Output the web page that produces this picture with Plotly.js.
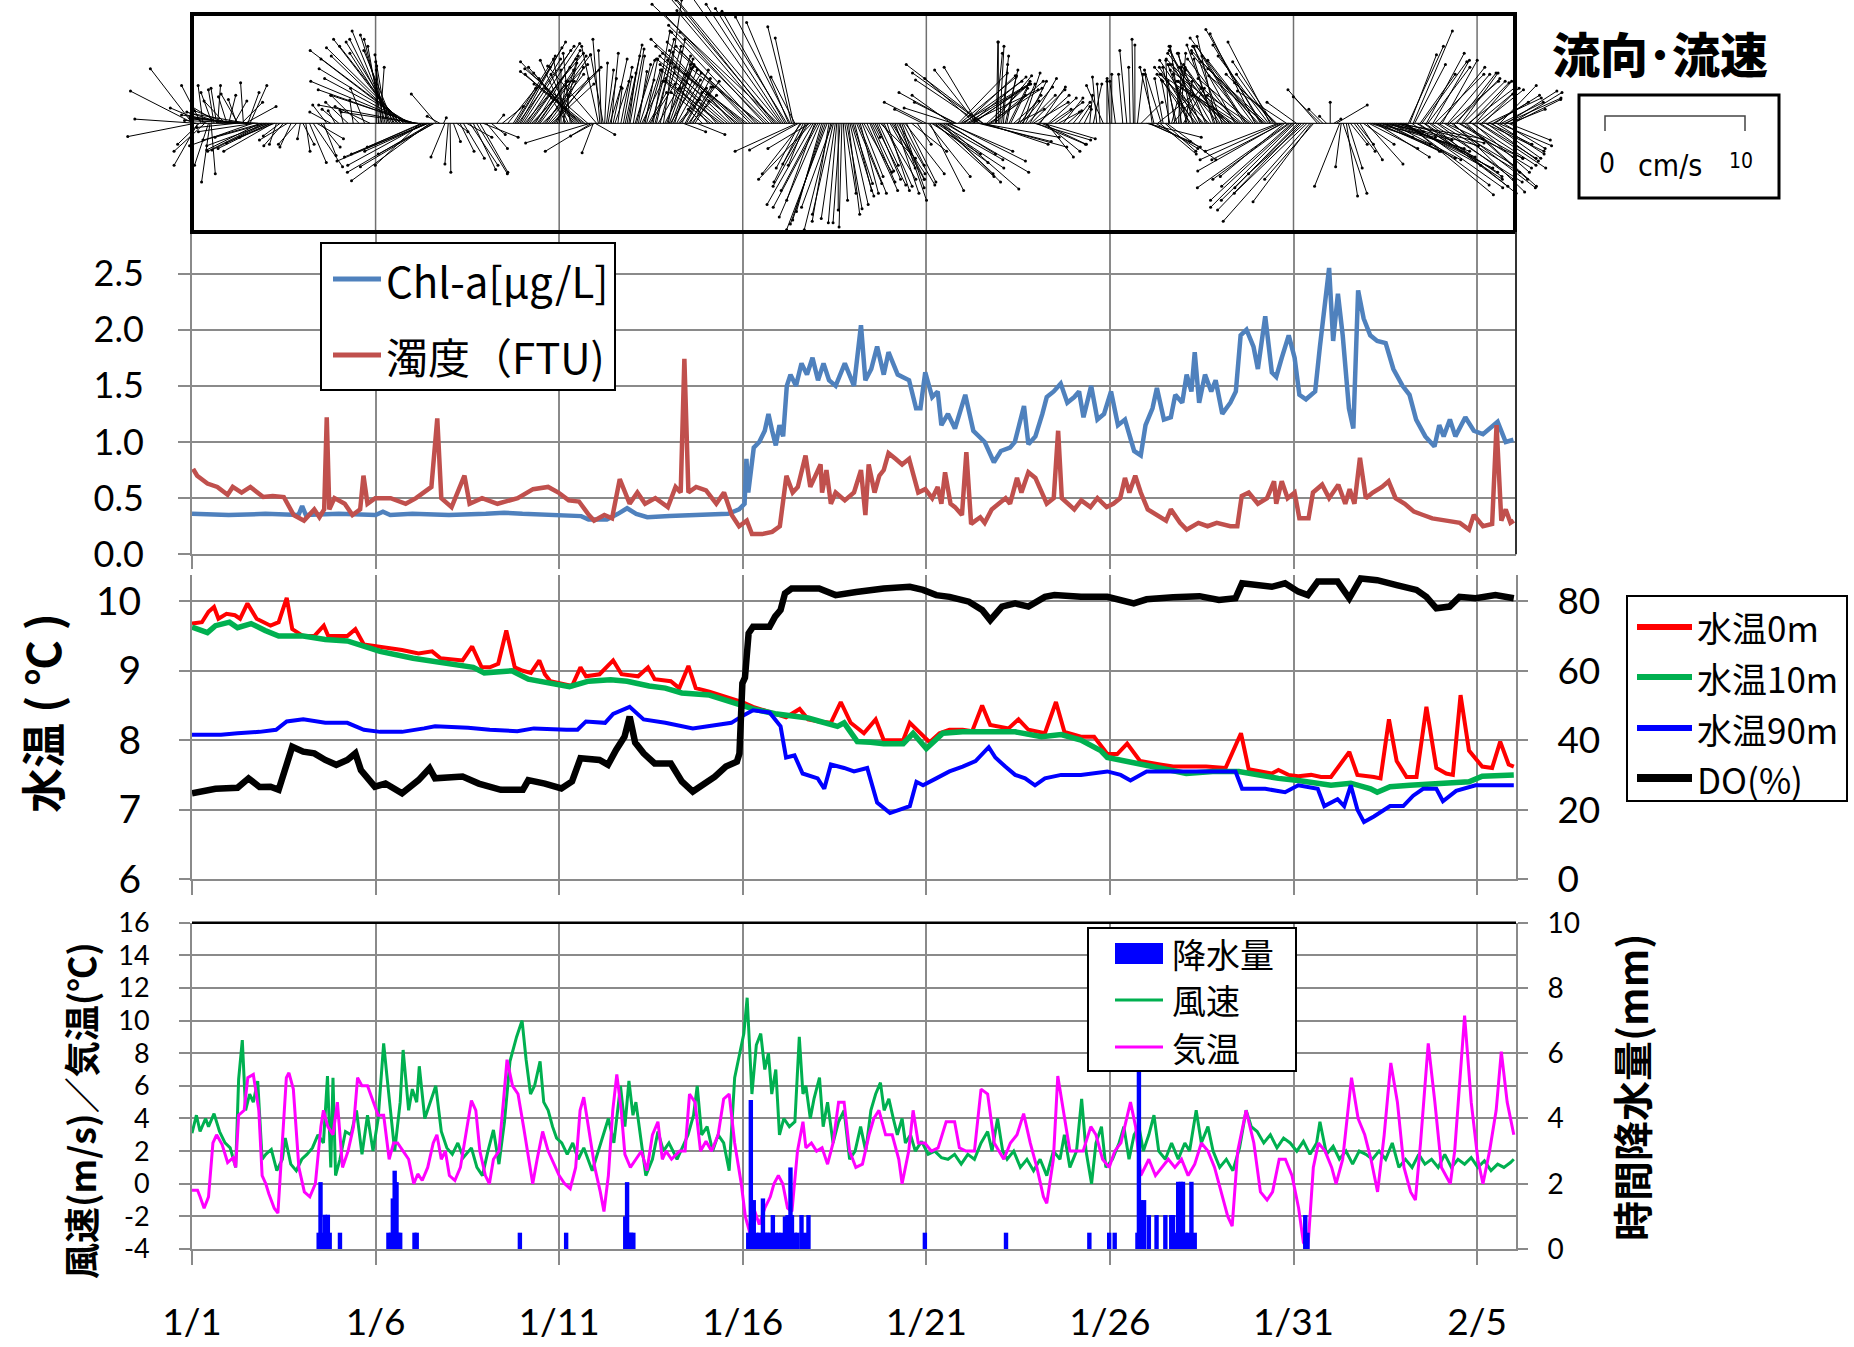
<!DOCTYPE html>
<html><head><meta charset="utf-8">
<script src="https://cdn.plot.ly/plotly-3.0.1.min.js"></script>
<style>html,body{margin:0;padding:0;background:#fff;}#chart{width:1854px;height:1347px;}</style>
</head><body><div id="chart"></div>
<script>
// ---------------- DATA (time in days from 1/1 00:00) ----------------
const dateTicks=[0,5,10,15,20,25,30,35];
const dateLabels=['1/1','1/6','1/11','1/16','1/21','1/26','1/31','2/5'];

const chlT=[0,1,2,2.9,3.0,3.1,4,5,5.2,5.4,6,7,8,8.5,9,10,10.6,10.8,11.3,11.6,11.85,12.1,12.4,13,14,14.6,14.9,15.05,15.1,15.15,15.3,15.45,15.6,15.7,15.8,15.9,16.0,16.1,16.2,16.3,16.45,16.6,16.75,16.9,17.05,17.2,17.35,17.53,17.78,18.03,18.22,18.34,18.5,18.66,18.84,18.97,19.22,19.53,19.72,19.84,19.97,20.16,20.31,20.41,20.59,20.78,21.06,21.28,21.59,21.84,22.03,22.28,22.41,22.66,22.78,22.97,23.16,23.28,23.47,23.66,23.84,24.03,24.16,24.28,24.49,24.66,24.84,25.03,25.22,25.41,25.66,25.84,25.97,26.16,26.28,26.47,26.66,26.78,26.97,27.09,27.22,27.31,27.43,27.59,27.76,27.88,28.06,28.28,28.43,28.56,28.72,28.91,29.03,29.23,29.41,29.53,29.68,29.87,30.03,30.16,30.34,30.59,30.72,30.82,30.97,31.08,31.21,31.34,31.51,31.63,31.76,31.91,32.09,32.28,32.51,32.72,32.97,33.16,33.34,33.59,33.84,33.97,34.09,34.26,34.41,34.68,34.91,35.16,35.34,35.56,35.78,35.99];
const chlV=[0.36,0.35,0.36,0.35,0.43,0.35,0.36,0.35,0.38,0.35,0.36,0.35,0.36,0.37,0.36,0.35,0.34,0.31,0.31,0.36,0.41,0.36,0.33,0.34,0.35,0.36,0.4,0.45,0.85,0.55,0.95,1.0,1.1,1.25,1.1,0.97,1.15,1.05,1.5,1.6,1.5,1.7,1.6,1.75,1.55,1.7,1.55,1.5,1.7,1.5,2.04,1.55,1.65,1.85,1.6,1.8,1.6,1.55,1.3,1.3,1.62,1.4,1.45,1.15,1.25,1.12,1.42,1.1,1.0,0.82,0.92,0.95,1.0,1.32,0.98,1.05,1.25,1.4,1.45,1.52,1.35,1.4,1.45,1.22,1.5,1.2,1.25,1.45,1.15,1.2,0.92,0.88,1.15,1.3,1.48,1.2,1.22,1.42,1.35,1.6,1.45,1.8,1.35,1.6,1.45,1.55,1.25,1.35,1.45,1.95,2.0,1.85,1.65,2.12,1.62,1.58,1.75,1.95,1.75,1.42,1.38,1.45,1.85,2.1,2.55,1.9,2.32,1.95,1.3,1.12,2.35,2.1,1.95,1.9,1.88,1.65,1.5,1.42,1.2,1.05,0.96,1.15,1.05,1.2,1.05,1.22,1.1,1.07,1.12,1.18,1.0,1.02];

const turbT=[0.03,0.14,0.42,0.69,0.97,1.11,1.35,1.59,1.94,2.2,2.5,2.77,3.05,3.33,3.47,3.6,3.67,3.74,3.88,4.16,4.37,4.58,4.67,4.78,4.99,5.41,5.82,6.1,6.52,6.68,6.79,7.07,7.42,7.56,7.9,8.32,8.87,9.29,9.7,9.98,10.26,10.54,10.81,10.95,11.23,11.44,11.65,11.92,12.13,12.34,12.62,12.96,13.17,13.31,13.41,13.52,13.73,14.0,14.28,14.49,14.7,14.9,15.11,15.25,15.53,15.8,16.01,16.19,16.36,16.5,16.71,16.84,17.12,17.16,17.28,17.4,17.53,17.78,18.03,18.22,18.34,18.43,18.59,18.72,18.84,18.97,19.16,19.34,19.53,19.66,19.78,19.97,20.16,20.31,20.41,20.51,20.66,20.78,20.97,21.09,21.22,21.34,21.47,21.59,21.78,21.97,22.16,22.28,22.47,22.59,22.78,22.97,23.16,23.28,23.47,23.59,23.69,23.84,24.03,24.22,24.47,24.66,24.91,25.09,25.28,25.41,25.53,25.69,25.84,26.03,26.28,26.53,26.66,26.91,27.09,27.41,27.66,27.91,28.28,28.47,28.59,28.78,29.03,29.28,29.47,29.53,29.68,29.84,30.03,30.16,30.41,30.53,30.78,30.97,31.22,31.41,31.53,31.66,31.81,31.97,32.16,32.41,32.59,32.78,33.03,33.28,33.53,33.78,34.16,34.53,34.78,34.91,35.16,35.41,35.53,35.66,35.78,35.91,36.0];
const turbV=[0.76,0.7,0.63,0.6,0.53,0.6,0.55,0.6,0.51,0.52,0.51,0.35,0.3,0.4,0.33,0.4,1.22,0.4,0.5,0.45,0.35,0.4,0.7,0.45,0.5,0.5,0.45,0.5,0.6,1.21,0.5,0.42,0.7,0.45,0.5,0.45,0.5,0.58,0.6,0.55,0.48,0.47,0.35,0.3,0.35,0.32,0.67,0.45,0.55,0.45,0.5,0.42,0.6,0.55,1.74,0.55,0.6,0.57,0.45,0.55,0.35,0.25,0.3,0.18,0.18,0.2,0.25,0.7,0.55,0.6,0.88,0.6,0.8,0.55,0.75,0.45,0.55,0.48,0.55,0.75,0.35,0.8,0.55,0.7,0.75,0.9,0.85,0.8,0.85,0.7,0.55,0.58,0.5,0.6,0.45,0.73,0.45,0.42,0.35,0.91,0.27,0.3,0.33,0.28,0.4,0.45,0.5,0.45,0.68,0.55,0.73,0.68,0.55,0.45,0.5,1.1,0.5,0.45,0.4,0.48,0.42,0.5,0.42,0.45,0.5,0.68,0.55,0.7,0.55,0.4,0.35,0.3,0.4,0.28,0.22,0.28,0.25,0.28,0.25,0.25,0.52,0.55,0.45,0.5,0.65,0.45,0.65,0.5,0.55,0.32,0.32,0.55,0.62,0.5,0.62,0.45,0.58,0.45,0.86,0.5,0.55,0.6,0.65,0.5,0.45,0.38,0.35,0.32,0.3,0.28,0.22,0.35,0.25,0.27,1.15,0.3,0.4,0.28,0.3];

const wt0T=[0,0.27,0.45,0.6,0.72,0.94,1.17,1.31,1.51,1.76,2.14,2.36,2.58,2.73,3.03,3.33,3.59,3.71,4.23,4.45,4.68,5.12,5.72,6.17,6.54,6.77,7.37,7.63,7.89,8.11,8.34,8.56,8.79,9.01,9.23,9.46,9.61,9.76,10.2,10.35,10.58,10.73,11.1,11.47,11.7,12.15,12.42,12.6,13.04,13.27,13.52,13.72,14.09,14.39,14.69,14.99,15.28,15.58,15.88,16.18,16.55,16.78,17.08,17.4,17.67,17.94,18.3,18.62,18.84,19.37,19.55,19.91,20.09,20.36,20.63,20.99,21.25,21.52,21.74,22.24,22.51,22.78,23.23,23.53,23.76,24.21,24.57,24.93,25.2,25.47,25.82,26.36,26.72,27.08,27.62,28.15,28.57,28.78,29.14,29.41,29.59,29.86,30.13,30.48,30.75,31.02,31.52,31.74,32.19,32.37,32.6,32.81,33.08,33.35,33.62,33.89,34.16,34.34,34.55,34.78,35.14,35.41,35.63,35.86,36.0];
const wt0V=[9.68,9.7,9.85,9.92,9.75,9.82,9.8,9.75,9.97,9.75,9.65,9.7,10.05,9.6,9.5,9.5,9.65,9.5,9.5,9.6,9.38,9.35,9.3,9.25,9.28,9.18,9.15,9.35,9.05,9.05,9.1,9.58,9.05,9.0,8.97,9.15,8.95,8.85,8.8,8.78,9.05,8.92,8.95,9.15,8.95,8.92,9.05,8.88,8.85,8.75,9.07,8.75,8.7,8.65,8.6,8.55,8.48,8.43,8.38,8.33,8.45,8.3,8.27,8.25,8.55,8.25,8.1,8.3,8.0,8.0,8.25,8.05,7.97,8.1,8.15,8.15,8.13,8.5,8.22,8.17,8.3,8.15,8.1,8.55,8.12,8.05,8.05,7.8,7.8,7.95,7.7,7.65,7.62,7.62,7.62,7.6,8.1,7.58,7.55,7.52,7.57,7.5,7.48,7.5,7.47,7.47,7.83,7.5,7.47,7.45,8.3,7.7,7.47,7.47,8.48,7.6,7.52,7.5,8.65,7.85,7.62,7.6,7.98,7.65,7.62];

const wt10T=[0,0.42,0.64,1.02,1.24,1.61,1.99,2.36,3.03,3.63,4.23,4.68,5.12,6.02,6.92,7.66,7.96,8.71,9.16,9.76,10.28,10.8,11.4,11.85,12.45,12.89,13.34,14.09,14.69,15.28,15.88,16.78,17.04,17.58,17.76,18.12,18.48,18.84,19.37,19.64,20.0,20.45,20.99,21.7,22.42,23.14,23.67,24.21,24.75,24.93,25.47,26.36,27.08,27.8,28.51,29.23,29.59,30.13,31.02,31.56,32.1,32.28,32.63,33.17,34.07,34.78,35.14,36.0];
const wt10V=[9.63,9.55,9.65,9.7,9.62,9.68,9.58,9.5,9.5,9.45,9.43,9.35,9.28,9.18,9.1,9.05,8.97,9.0,8.88,8.82,8.77,8.85,8.87,8.85,8.78,8.75,8.68,8.65,8.55,8.45,8.38,8.32,8.28,8.2,8.25,7.98,7.97,7.95,7.95,8.1,7.88,8.1,8.12,8.12,8.12,8.05,8.08,8.0,7.85,7.75,7.7,7.6,7.52,7.55,7.55,7.48,7.45,7.42,7.35,7.38,7.3,7.25,7.33,7.35,7.37,7.4,7.48,7.5];

const wt90T=[0,0.79,1.24,1.84,2.29,2.58,3.03,3.63,4.23,4.68,5.12,5.72,6.32,6.62,7.52,8.11,8.86,9.31,10.2,10.5,10.73,11.25,11.47,11.92,12.3,12.89,13.64,14.09,14.69,14.99,15.28,15.73,16.03,16.18,16.41,16.63,17.04,17.22,17.4,17.76,18.03,18.39,18.66,19.01,19.28,19.55,19.73,19.91,20.27,20.63,20.99,21.34,21.7,21.88,22.15,22.42,22.69,22.96,23.23,23.67,24.21,24.93,25.29,25.56,26.0,26.72,27.8,28.42,28.6,29.23,29.77,30.13,30.66,30.84,31.2,31.38,31.56,31.74,31.92,32.19,32.63,32.99,33.26,33.53,33.89,34.07,34.43,34.96,36.0];
const wt90V=[8.08,8.08,8.1,8.12,8.15,8.27,8.3,8.25,8.25,8.15,8.12,8.12,8.17,8.2,8.18,8.15,8.13,8.17,8.15,8.15,8.27,8.25,8.38,8.48,8.3,8.25,8.17,8.2,8.25,8.35,8.43,8.4,8.2,7.75,7.78,7.52,7.45,7.3,7.65,7.6,7.55,7.6,7.1,6.95,7.0,7.05,7.4,7.35,7.45,7.55,7.62,7.7,7.9,7.75,7.62,7.5,7.45,7.35,7.45,7.5,7.5,7.55,7.5,7.42,7.55,7.55,7.55,7.55,7.3,7.3,7.25,7.35,7.3,7.05,7.15,7.05,7.35,7.0,6.82,6.9,7.05,7.05,7.2,7.3,7.3,7.12,7.27,7.35,7.35];

const doT=[0,0.64,1.24,1.54,1.84,2.14,2.36,2.58,2.73,3.03,3.33,3.63,3.93,4.23,4.45,4.6,4.98,5.27,5.72,6.17,6.47,6.62,7.37,7.81,8.41,9.01,9.16,9.61,10.06,10.35,10.58,11.1,11.33,11.55,11.78,11.92,12.07,12.3,12.6,13.04,13.34,13.64,13.94,14.24,14.54,14.84,14.91,14.99,15.06,15.16,15.28,15.73,15.88,16.03,16.15,16.33,17.08,17.53,18.09,18.48,18.84,19.55,19.91,20.27,20.63,21.16,21.52,21.74,22.06,22.42,22.78,23.23,23.49,24.21,24.93,25.65,26.0,26.72,27.44,27.97,28.42,28.6,28.96,29.41,29.77,30.13,30.39,30.66,31.2,31.52,31.83,32.28,32.81,33.35,33.62,33.89,34.25,34.52,34.96,35.5,36.0];
const doV=[24.7,26,26.3,29,26.5,26.6,25.7,33,38.1,36.7,36.2,34.3,32.9,34.3,36.2,31.4,26.6,27.5,24.7,28.5,31.9,29,29.5,27.5,25.7,25.7,28.5,27.5,26.1,28.1,34.8,34.3,32.9,37.2,41,46.8,39.3,36.2,33.3,33.3,28.1,25.2,27.2,29.5,32.4,33.8,36.2,56.4,58,70.8,72.7,72.7,75.6,77.5,82.3,83.7,83.7,81.8,82.7,83.3,83.7,84.2,83.3,81.8,81.3,79.9,77.5,74.6,78.5,79.4,78.5,81.3,81.8,81.3,81.3,79.4,80.6,81.2,81.5,80.4,80.9,85.2,84.7,84.2,85.2,82.8,81.8,85.7,85.7,80.9,86.6,86.1,84.7,83.3,81.3,78.0,78.5,81.3,80.9,81.8,80.9];

const windT=[0,0.12,0.22,0.37,0.45,0.6,0.75,0.9,1.04,1.19,1.27,1.37,1.46,1.57,1.67,1.79,1.91,2.01,2.16,2.31,2.46,2.54,2.69,2.84,2.99,3.13,3.28,3.43,3.58,3.69,3.78,3.84,3.91,4.03,4.18,4.33,4.48,4.63,4.78,4.93,5.07,5.22,5.3,5.4,5.52,5.67,5.75,5.9,6.0,6.12,6.19,6.34,6.49,6.64,6.79,6.94,7.09,7.24,7.39,7.61,7.76,7.91,8.06,8.21,8.36,8.51,8.66,8.84,8.99,9.1,9.22,9.33,9.48,9.58,9.7,9.82,9.93,10.07,10.22,10.37,10.52,10.67,10.9,11.04,11.19,11.34,11.49,11.67,11.79,11.9,12.01,12.09,12.24,12.36,12.54,12.69,12.84,12.99,13.21,13.36,13.51,13.66,13.76,13.88,14.03,14.18,14.33,14.48,14.63,14.78,14.93,15.03,15.12,15.25,15.37,15.49,15.6,15.7,15.79,15.9,16.0,16.12,16.27,16.42,16.54,16.64,16.72,16.84,16.94,17.09,17.19,17.31,17.46,17.61,17.76,17.91,18.06,18.21,18.35,18.49,18.62,18.75,18.85,18.98,19.1,19.21,19.34,19.43,19.57,19.7,19.87,20.05,20.23,20.41,20.59,20.77,20.95,21.13,21.31,21.49,21.67,21.79,21.94,22.08,22.2,22.38,22.56,22.74,22.92,23.1,23.28,23.46,23.64,23.76,23.91,24.09,24.23,24.35,24.5,24.62,24.77,24.89,25.07,25.25,25.38,25.52,25.66,25.79,25.91,26.06,26.2,26.33,26.51,26.68,26.86,27.04,27.17,27.35,27.49,27.67,27.81,27.99,28.17,28.35,28.53,28.71,28.85,29.01,29.19,29.37,29.55,29.73,29.91,30.09,30.27,30.45,30.63,30.72,30.9,31.08,31.25,31.43,31.61,31.79,31.97,32.15,32.33,32.51,32.69,32.87,33.05,33.23,33.41,33.58,33.76,33.94,34.12,34.3,34.48,34.66,34.84,35.02,35.2,35.38,35.56,35.73,35.91,36.0];
const windV=[3.1,4.2,3.2,4.0,3.5,4.3,3.2,2.5,2.2,1.0,6.4,8.8,4.5,5.5,5.0,6.3,1.5,1.8,2.1,0.8,1.5,2.8,1.2,0.8,1.5,1.8,2.2,3.0,2.5,6.6,1.0,6.5,0.5,1.5,3.2,3.0,4.5,1.8,4.2,2.0,4.0,8.6,6.8,4.5,2.0,5.0,8.2,4.5,5.8,5.0,7.2,4.0,5.0,6.0,3.2,2.2,1.8,2.5,1.6,2.2,1.0,0.5,2.0,3.3,1.2,3.8,7.5,9.0,10.0,7.6,5.5,6.0,7.5,5.0,4.5,3.5,2.8,2.5,1.8,2.5,1.5,2.2,0.8,1.8,3.0,4.0,2.5,6.0,3.5,6.3,4.2,5.0,2.5,0.5,1.5,3.2,2.0,2.5,1.5,2.2,3.0,4.2,6.0,3.0,3.5,2.0,3.0,2.5,0.8,6.5,8.2,9.2,11.4,5.5,8.5,9.2,7.0,8.0,5.5,7.0,3.0,4.0,3.5,3.8,9.0,5.5,6.0,4.0,5.2,6.5,3.5,5.0,2.5,3.8,4.5,1.5,2.0,3.5,2.0,4.5,5.5,6.2,4.5,5.2,4.0,3.0,4.0,2.5,3.0,2.0,2.6,1.8,2.0,1.6,1.5,1.8,1.2,1.8,1.5,2.5,3.2,2.0,4.0,2.0,1.5,2.0,1.0,1.5,0.8,1.5,0.5,2.0,1.5,3.0,1.0,2.0,5.2,2.0,0.0,2.5,3.5,1.0,1.5,2.5,3.5,1.5,3.0,3.5,2.0,3.0,4.2,2.0,1.5,2.5,1.5,2.5,2.0,4.5,2.5,3.5,2.0,1.0,1.5,0.8,2.2,4.5,3.5,3.2,2.5,3.0,2.2,2.8,2.5,2.0,2.6,1.8,2.5,3.8,1.8,2.3,1.5,2.0,1.2,2.0,1.8,1.5,2.0,1.5,2.5,1.0,1.5,1.0,1.8,1.2,1.5,1.0,1.8,1.0,1.5,1.2,1.6,1.0,1.4,0.8,1.2,1.0,1.3,1.5];

const airT=[0,0.15,0.22,0.33,0.45,0.57,0.67,0.82,0.97,1.12,1.19,1.27,1.42,1.52,1.67,1.82,1.91,2.01,2.09,2.24,2.34,2.46,2.57,2.64,2.76,2.91,3.06,3.21,3.36,3.51,3.58,3.7,3.84,3.96,4.1,4.25,4.4,4.51,4.63,4.78,4.93,5.07,5.22,5.37,5.49,5.6,5.75,5.9,6.04,6.15,6.27,6.42,6.57,6.67,6.79,6.9,7.01,7.16,7.31,7.46,7.61,7.73,7.84,7.99,8.1,8.21,8.36,8.48,8.58,8.73,8.88,9.03,9.18,9.28,9.4,9.55,9.7,9.85,10.0,10.15,10.3,10.45,10.57,10.67,10.82,10.97,11.12,11.22,11.34,11.46,11.57,11.69,11.79,11.94,12.09,12.24,12.39,12.54,12.69,12.81,12.91,13.06,13.28,13.43,13.55,13.7,13.85,14.0,14.15,14.33,14.48,14.63,14.78,14.96,15.07,15.19,15.3,15.45,15.6,15.75,15.85,15.97,16.09,16.22,16.34,16.49,16.64,16.72,16.87,17.01,17.16,17.31,17.46,17.61,17.76,17.91,18.08,18.26,18.44,18.57,18.71,18.89,19.07,19.25,19.34,19.52,19.64,19.78,19.96,20.14,20.32,20.54,20.77,20.9,21.08,21.31,21.49,21.67,21.85,22.11,22.29,22.47,22.65,22.83,23.01,23.19,23.28,23.46,23.58,23.76,23.91,24.09,24.27,24.48,24.62,24.8,24.98,25.13,25.3,25.56,25.7,25.84,26.06,26.24,26.42,26.59,26.77,26.95,27.13,27.31,27.49,27.67,27.85,28.03,28.21,28.33,28.48,28.71,28.92,29.1,29.28,29.43,29.61,29.78,29.96,30.14,30.27,30.39,30.54,30.68,30.86,31.04,31.16,31.34,31.58,31.76,31.94,32.11,32.29,32.47,32.65,32.83,33.01,33.19,33.32,33.46,33.67,33.85,34.03,34.27,34.39,34.52,34.66,34.84,35.02,35.16,35.34,35.52,35.66,35.82,36.0];
const airV=[-0.4,-0.4,-0.8,-1.5,-0.8,2.5,3.0,2.4,1.3,1.6,1.0,4.2,4.5,6.5,6.7,4.5,0.5,0.0,-0.6,-1.5,-1.8,2.5,6.5,6.8,5.8,1.0,-0.5,-0.8,0.0,3.5,4.5,3.5,3.0,5.0,1.0,2.0,3.5,6.5,6.0,6.0,5.0,4.2,4.2,1.5,2.5,2.5,2.0,1.5,0.0,0.6,0.2,1.0,2.5,3.0,1.5,2.0,0.5,0.2,1.0,3.0,5.1,4.5,2.0,0.5,0.0,1.5,2.0,5.0,7.6,6.0,5.5,3.5,1.5,0.0,1.5,3.2,2.0,1.2,0.5,0.0,-0.3,1.0,4.5,5.3,3.0,1.0,-0.5,-1.7,0.5,4.5,6.7,4.5,1.8,1.0,1.5,2.0,0.8,3.0,3.8,1.5,2.0,1.5,2.0,2.0,5.5,5.0,2.0,2.6,2.0,3.0,5.2,5.5,2.5,0.0,-2.0,-3.0,-1.5,-2.5,-1.5,-0.8,0.0,0.5,0.0,-1.5,-1.7,2.0,3.8,2.2,2.5,2.0,2.2,1.2,2.5,5.0,5.0,2.0,1.0,1.2,3.0,4.0,4.5,3.0,3.0,1.5,0.0,2.0,4.5,2.5,2.5,2.0,2.2,3.8,3.8,2.2,2.0,2.0,5.8,5.5,2.5,1.5,2.5,3.0,4.3,2.5,1.0,-0.8,-1.2,1.5,6.6,4.0,2.0,2.0,2.0,3.5,3.0,1.5,1.0,2.0,2.5,5.0,3.5,0.5,1.5,0.5,1.0,1.5,1.0,1.5,0.5,1.2,2.5,2.0,1.0,-0.5,-2.0,-2.6,2.0,4.5,2.5,-0.5,-1.0,-0.5,1.5,1.5,0.5,-1.5,-3.6,-4.0,1.0,2.5,2.0,1.0,0.0,1.5,6.5,4.0,3.0,1.5,-0.5,3.0,7.4,5.0,1.0,-0.5,-1.0,2.5,8.6,5.0,1.0,0.0,2.0,6.0,10.3,5.0,1.5,0.0,2.0,4.5,8.1,5.0,3.0];

const rainT=[3.45,3.5,3.55,3.62,3.7,3.75,4.03,5.35,5.42,5.47,5.52,5.57,5.62,5.67,6.06,6.12,8.93,10.19,11.8,11.85,11.9,11.96,12.02,15.15,15.22,15.3,15.37,15.45,15.55,15.62,15.67,15.75,15.82,15.9,15.97,16.05,16.15,16.22,16.3,16.34,16.42,16.49,16.6,16.69,16.79,19.96,22.17,24.44,24.98,25.13,25.75,25.79,25.84,25.88,25.93,26.06,26.27,26.51,26.67,26.72,26.78,26.86,26.93,26.99,27.06,27.13,27.22,27.31,30.32,30.38];
const rainV=[0.5,2.05,0.5,1.05,1.05,0.5,0.5,0.5,0.5,1.55,2.4,2.05,0.5,0.5,0.5,0.5,0.5,0.5,1.0,2.05,0.5,0.5,0.5,0.5,4.57,1.5,0.5,0.5,1.55,0.5,0.5,0.5,1.04,0.5,0.5,0.5,1.0,1.04,2.5,1.04,0.5,0.5,1.04,0.5,1.04,0.5,0.5,0.5,0.5,0.5,0.5,5.49,1.5,1.0,1.5,1.04,1.04,1.04,1.04,1.04,0.5,2.06,2.06,2.06,0.5,0.5,2.06,0.5,1.04,0.5];

// current vectors (set 1): base time (days), east component u and north component v (cm/s)
const stT=[0.01,0.04,0.08,0.12,0.16,0.2,0.25,0.3,0.4,0.49,
0.52,0.6,0.67,0.75,0.85,0.95,1.05,1.15,1.25,1.4,
1.45,1.5,1.58,1.65,1.85,1.95,2.03,2.12,2.2,2.3,
2.4,2.49,2.6,2.7,2.85,2.95,3.02,3.1,3.2,3.3,
3.4,3.5,3.58,3.67,3.78,3.9,4.0,4.12,4.25,4.39,
4.55,4.7,4.85,5.03,5.12,5.21,5.3,5.39,5.48,5.57,
5.66,5.76,5.85,5.94,6.03,6.12,6.21,6.3,6.39,6.44,
6.48,6.57,6.66,6.75,6.85,6.89,6.98,7.03,7.12,7.21,
7.3,7.39,7.48,7.57,7.66,7.75,7.84,7.93,8.02,8.15,
8.3,8.45,8.6,8.75,8.84,8.93,9.02,9.11,9.2,9.3,
9.4,9.48,9.6,9.7,9.8,9.9,10.0,10.1,10.2,10.3,
10.4,10.5,10.6,10.7,10.78,10.84,10.88,10.93,10.96,10.98,
11.02,11.07,11.11,11.2,11.29,11.38,11.47,11.6,11.75,11.85,
11.93,12.02,12.11,12.2,12.3,12.38,12.47,12.56,12.61,12.7,
12.84,12.93,13.0,13.06,13.11,13.2,13.29,13.38,13.47,13.56,
13.65,13.75,13.9,14.05,14.2,14.35,14.5,14.65,14.8,14.92,
15.05,15.2,15.35,15.5,15.65,15.8,15.9,16.01,16.1,16.2,
16.29,16.33,16.38,16.42,16.47,16.52,16.56,16.65,16.74,16.83,
16.92,17.0,17.1,17.2,17.3,17.4,17.47,17.56,17.65,17.74,
17.83,17.92,18.0,18.1,18.2,18.3,18.46,18.55,18.65,18.75,
18.85,19.01,19.1,19.19,19.28,19.37,19.46,19.6,19.75,19.9,
20.0,20.1,20.19,20.28,20.37,20.46,20.55,20.64,20.73,20.82,
20.92,21.0,21.1,21.19,21.28,21.37,21.42,21.46,21.5,21.55,
21.65,21.75,21.85,21.91,22.0,22.1,22.19,22.3,22.45,22.55,
22.64,22.75,22.82,22.91,23.0,23.1,23.19,23.28,23.37,23.5,
23.6,23.73,23.85,24.0,24.15,24.3,24.45,24.55,24.64,24.73,
24.82,24.92,25.0,25.05,25.15,25.35,25.46,25.55,25.64,25.68,
25.75,25.85,26.0,26.09,26.2,26.3,26.36,26.45,26.55,26.63,
26.72,26.82,26.91,27.0,27.1,27.2,27.3,27.4,27.5,27.6,
27.7,27.82,27.91,28.0,28.1,28.2,28.3,28.4,28.5,28.6,
28.7,28.8,28.9,29.0,29.1,29.17,29.27,29.36,29.45,29.54,
29.63,29.72,29.81,29.9,29.99,30.08,30.17,30.3,30.45,30.55,
30.65,30.72,30.8,30.9,31.0,31.1,31.17,31.26,31.3,31.35,
31.44,31.49,31.55,31.65,31.72,31.81,31.9,31.99,32.1,32.2,
32.3,32.4,32.5,32.6,32.7,32.8,32.9,33.0,33.08,33.17,
33.26,33.35,33.45,33.55,33.62,33.7,33.8,33.9,33.99,34.1,
34.2,34.35,34.45,34.53,34.62,34.71,34.8,34.9,35.0,35.08,
35.17,35.26,35.35,35.44,35.53,35.62,35.71,35.8,35.9,35.98];
const stU=[-3.0,-4.5,-4.8,-4.4,-1.7,-1.55,-1.4,-0.35,-2.6,-0.6,
0.3,-0.4,-0.4,-2.0,-2.6,-0.6,-3.5,0.9,-1.2,-0.2,
2.2,-4.0,1.2,-4.5,-3.8,-4.0,-3.9,-3.7,-3.5,-0.5,
-1.2,-1.4,-2.0,-0.8,-1.3,-0.2,0.8,0.3,1.2,2.1,
1.9,1.4,0.9,-1.0,-1.5,-0.5,-1.2,-0.24,-1.6,-0.24,
-2.0,-1.0,-2.5,0.0,0.3,-0.5,-0.83,-2.7,-2.1,-3.6,
-4.3,-5.5,-6.9,-6.5,-6.8,-7.0,-3.2,-4.0,-6.4,-6.0,
-5.6,-5.2,-1.8,-0.9,0.2,-1.0,-0.24,0.05,0.5,0.8,
1.0,1.5,1.8,2.0,1.6,2.2,2.0,2.5,1.5,1.0,
0.5,1.5,2.0,3.0,3.5,3.0,3.4,3.8,3.3,2.5,
3.5,3.6,2.8,1.5,3.0,2.0,0.5,1.0,-1.5,-0.5,
-2.5,-3.5,-4.0,-4.6,-4.5,-4.6,-3.3,-0.8,-1.7,1.4,
-3.5,-1.2,-0.5,-0.9,0.5,0.8,1.0,0.3,0.6,0.9,
1.0,0.8,1.0,1.0,1.2,1.1,1.8,1.2,1.3,2.0,
1.3,1.7,1.5,1.6,1.7,1.7,1.4,1.6,1.7,1.5,
1.4,2.0,-1.0,-2.0,-3.5,-3.8,-4.5,-5.0,-5.2,-6.0,
-5.5,-4.9,-6.0,-5.0,-7.0,-6.8,-8.0,-7.9,-5.5,-5.1,
-3.9,-1.7,-1.3,-1.7,-4.4,-3.5,-1.7,-2.1,-1.7,-3.0,
-3.3,-2.5,-2.9,-2.2,-2.9,-1.9,-1.5,-0.6,-0.5,0.3,
1.1,1.3,1.4,1.8,1.3,2.0,1.8,0.5,1.7,2.5,
2.0,1.8,2.2,2.0,1.9,1.5,2.1,2.5,1.0,-2.0,
-3.0,2.4,3.9,4.8,3.8,5.4,3.5,5.4,-3.5,-3.0,
4.0,4.2,4.5,4.0,3.5,-3.0,5.2,-4.6,6.1,-5.5,
3.0,2.5,3.5,0.1,0.3,0.3,0.7,1.2,2.0,1.5,
1.2,2.0,1.9,2.5,3.5,1.8,3.7,1.9,1.5,2.0,
1.5,1.4,1.0,1.2,0.8,0.5,0.2,0.6,-0.3,-0.2,
-1.2,0.0,-0.2,0.0,-0.4,-0.3,-0.5,-0.1,-0.1,0.0,
0.4,1.5,3.9,3.6,-1.0,2.5,2.6,-0.6,3.5,-0.6,
2.0,-1.0,0.4,1.5,-1.0,-2.0,-2.5,-1.5,-3.0,-2.0,
-3.5,-1.4,-1.4,-2.5,-4.0,-3.5,-5.0,-3.0,-4.0,-4.5,
-3.5,-3.0,-4.5,-3.5,-3.9,-4.4,-4.2,-3.0,-2.9,-3.0,
-5.7,-5.1,-3.5,-5.5,-5.9,-2.1,-5.6,-4.0,-6.2,-3.5,
-2.1,-1.9,-1.0,-0.5,0.0,0.5,2.2,-1.8,-0.4,1.7,
0.8,1.0,1.2,1.5,1.2,1.6,2.2,2.6,3.0,4.0,
4.5,3.0,5.0,4.5,5.5,6.2,6.0,5.5,6.2,1.9,
2.8,5.8,2.5,6.0,2.7,6.2,2.6,5.5,3.2,5.0,
3.0,5.1,2.8,4.5,3.0,5.0,2.8,4.0,3.0,4.0,
2.1,3.7,3.0,2.5,3.4,2.6,3.0,3.6,2.5,3.4];
const stV=[3.9,2.3,-0.95,0.3,-3.0,-1.5,2.7,2.7,1.1,-4.2,
-3.6,2.4,2.5,1.2,0.8,1.9,0.6,1.6,2.1,2.9,
1.2,0.7,2.7,-1.6,-1.9,-2.0,-1.9,-1.8,-2.0,-1.5,
-0.9,-1.6,-1.2,-1.7,-1.5,-1.1,-1.5,-2.0,-2.8,-3.1,
-1.1,-1.7,-2.3,1.3,0.8,0.9,1.0,0.95,1.5,1.67,
2.0,2.5,1.2,4.1,4.0,3.8,4.9,6.6,5.2,5.8,
5.5,5.4,5.2,3.9,2.4,1.3,-3.0,-1.7,-2.7,-2.4,
-4.1,-3.1,2.1,0.5,0.4,-2.4,-2.9,-3.5,-1.3,-0.6,
-2.0,-2.5,-1.0,-3.0,-3.3,-3.6,-3.5,-1.0,-1.8,-0.8,
0.6,1.2,2.5,4.8,5.8,5.4,5.2,5.7,4.6,3.0,
4.8,4.9,3.5,2.0,2.8,4.0,3.0,4.3,2.5,5.0,
3.2,4.0,3.5,3.7,3.9,-1.4,-2.0,-2.1,-0.9,-0.8,
4.1,5.5,6.0,4.9,3.8,2.6,4.6,2.5,3.3,4.8,
5.3,4.8,4.2,3.1,3.8,3.8,2.8,6.6,5.1,3.5,
8.8,4.8,4.2,4.2,3.8,3.1,1.7,-0.6,3.2,2.6,
2.6,-0.8,1.0,2.5,3.0,3.2,3.8,4.8,5.0,5.5,
4.5,5.1,6.5,3.9,7.0,8.05,9.5,9.5,8.5,8.2,
7.6,6.9,6.1,3.3,-2.0,-1.9,-3.2,-4.2,-2.9,-1.8,
-5.8,-4.8,-6.7,-6.9,-7.6,-7.6,-6.5,-7.1,-7.1,-5.5,
-6.1,-5.8,-4.3,-4.3,-5.0,-3.5,-4.2,-1.0,-4.0,-2.5,
-4.5,-3.2,-4.0,-4.0,-5.5,-3.0,-4.2,-2.0,-1.5,1.0,
1.5,-4.8,-2.8,-3.2,-3.6,-4.7,-2.2,-2.7,1.1,1.5,
3.3,3.0,2.8,3.3,2.5,3.8,-1.3,3.1,-1.7,4.2,
2.8,2.0,3.0,5.8,5.5,4.2,3.4,2.5,1.0,2.0,
3.6,2.0,3.2,1.5,-1.5,2.6,-1.1,-2.4,1.0,1.5,
0.8,1.8,0.9,1.5,1.2,1.0,2.0,2.8,3.3,2.8,
2.7,3.0,3.2,3.5,3.0,3.5,5.2,4.0,6.0,5.6,
3.5,1.5,-1.0,-1.7,4.0,2.0,-2.2,3.2,-2.6,3.1,
2.5,4.0,5.0,2.5,3.5,3.0,4.0,2.5,4.5,5.0,
3.5,4.6,6.2,4.0,5.0,3.0,3.5,5.5,2.5,4.0,
5.5,2.0,6.1,4.5,6.7,4.4,3.9,5.8,4.4,2.9,
-2.6,-2.6,2.3,-4.0,-5.5,1.5,-5.5,-3.6,-7.0,-4.0,
2.4,1.9,1.0,0.5,1.5,0.3,1.3,-4.5,-3.1,-5.0,
-5.2,-3.2,-1.5,-2.0,-1.5,-2.6,-1.5,-2.9,-1.0,-1.5,
-2.0,-0.6,-2.5,-1.2,-2.0,-1.1,-1.4,-3.0,-5.1,4.9,
6.6,-3.5,3.5,-4.5,5.0,-5.0,4.5,-4.0,4.0,-3.0,
3.5,-4.9,3.6,-2.5,3.0,-4.5,2.9,-3.5,2.5,-2.5,
2.1,-2.7,-1.5,1.5,-2.2,2.7,-1.8,2.3,1.0,1.7];

// current vectors (set 2, additional records read from the dense fans)
const st2T=[0.35,0.45,0.55,0.7,0.9,0.98,1.0,1.1,1.2,1.22,
1.32,1.35,1.52,1.55,1.7,1.8,1.9,2.0,2.08,2.16,
2.25,5.08,5.17,5.26,5.35,5.44,5.52,5.61,5.7,5.8,
5.9,5.98,6.07,6.16,6.25,6.34,6.42,6.52,6.6,8.8,
8.88,8.97,9.06,9.15,9.25,9.35,9.44,9.54,9.65,9.75,
9.85,9.95,10.05,10.15,10.25,10.35,10.45,10.55,10.65,11.15,
11.24,11.33,11.42,11.52,11.68,11.8,11.9,12.07,12.16,12.25,
12.34,12.43,12.52,12.65,12.75,12.88,12.97,13.03,13.15,13.25,
13.34,13.43,13.52,13.6,13.7,14.12,14.28,14.43,14.58,14.72,
14.86,14.98,15.12,15.28,15.42,15.58,15.72,15.85,15.96,16.05,
16.15,16.25,16.6,16.7,16.78,16.88,16.96,17.05,17.15,17.25,
17.35,17.44,17.52,17.6,17.7,17.78,17.88,17.96,18.05,18.15,
18.25,18.38,18.5,18.6,18.7,18.8,18.93,19.05,19.15,19.24,
19.33,19.42,20.05,20.14,20.24,20.33,20.42,20.5,20.6,20.68,
20.78,20.87,20.96,21.05,21.14,21.24,21.33,21.4,21.48,21.53,
21.6,21.7,21.8,21.88,21.96,22.05,22.15,22.25,22.38,22.5,
22.6,22.7,22.86,22.95,23.05,23.14,23.23,23.32,26.05,26.15,
26.25,26.4,26.5,26.6,26.68,26.77,26.87,26.95,27.05,27.15,
27.25,27.35,27.45,27.55,27.65,27.76,27.86,27.96,28.05,28.15,
28.25,28.35,28.45,28.55,28.65,28.75,28.85,28.95,29.05,29.14,
29.22,29.32,29.4,29.5,29.58,29.68,29.76,29.86,29.95,30.03,
30.12,30.22,30.37,30.5,32.05,32.15,32.25,32.35,32.45,32.55,
32.65,32.75,32.85,32.95,33.04,33.13,33.22,33.3,33.4,33.5,
33.58,33.66,33.75,33.85,33.95,34.05,34.15,34.25,34.3,34.4,
34.5,34.58,34.66,34.76,34.85,34.95,35.04,35.12,35.22,35.3,
35.4,35.48,35.58,35.66,35.76,35.85,35.94];
const st2U=[-2.2,-1.0,-0.8,0.2,-1.5,-2.4,0.5,-3.0,-2.8,-0.6,
-3.6,1.5,0.8,-4.6,-4.0,-4.8,-4.2,-3.6,-4.4,-3.2,
-2.5,-0.2,-1.0,-1.5,-2.0,-3.0,-3.2,-4.6,-5.0,-6.0,
-6.0,-7.2,-6.0,-5.5,-5.0,-5.5,-4.5,-6.0,-4.0,2.5,
4.0,2.8,4.2,3.0,4.0,3.2,2.5,4.2,2.0,3.5,
2.5,1.5,0.0,-0.8,-2.0,-1.5,-3.0,-4.2,-3.5,-0.2,
0.2,0.6,0.5,1.0,0.8,1.2,0.5,1.4,0.6,1.5,
0.9,1.3,1.6,1.0,1.5,2.0,1.2,2.2,1.3,2.0,
1.9,1.2,2.2,1.8,1.0,-2.8,-3.0,-4.0,-4.8,-4.5,
-5.8,-6.5,-5.2,-5.5,-6.5,-6.0,-7.5,-7.0,-9.0,-6.5,
-4.5,-3.0,-2.8,-1.2,-2.5,-3.8,-2.0,-3.2,-1.8,-2.5,
-1.2,-2.2,-1.0,0.0,-0.2,0.8,0.8,1.6,1.2,2.0,
1.5,2.2,1.6,2.2,1.4,2.4,1.6,2.4,1.7,2.6,
1.6,2.8,3.0,3.5,4.2,4.6,4.2,6.0,4.6,-2.8,
-4.0,3.5,4.8,3.6,5.0,4.2,-3.6,-2.4,5.6,-5.0,
4.5,3.8,2.8,0.5,0.0,0.5,0.9,1.5,1.8,1.2,
2.2,1.5,2.4,4.0,2.2,3.2,2.5,2.0,3.0,-0.5,
3.0,-1.2,2.2,-0.2,1.0,-0.5,0.2,-0.8,0.5,-1.5,
-1.0,-2.8,-2.2,-3.5,-2.5,-3.0,-2.0,-3.5,-2.0,-3.0,
-4.5,-4.0,-3.5,-5.0,-3.0,-4.0,-3.8,-3.2,-4.8,-3.5,
-4.0,-3.6,-2.5,-3.5,-5.2,-6.0,-4.6,-6.5,-5.0,-6.0,
-4.5,-6.0,-5.2,-4.2,3.5,4.5,3.8,5.0,4.0,5.5,
5.0,6.0,5.5,6.5,6.0,2.5,6.5,2.2,6.0,3.2,
5.5,3.0,6.5,3.5,5.8,2.5,5.5,3.5,6.0,3.2,
5.2,2.6,4.5,3.4,4.6,2.6,4.8,3.0,4.2,3.8,
3.5,3.2,3.8,3.0,4.0,3.0,3.6];
const st2V=[-2.0,-3.0,2.2,2.7,1.6,0.9,2.0,0.5,-0.3,1.7,
0.4,1.5,2.2,0.2,-0.6,0.3,-1.2,-1.0,-1.6,-1.4,
-1.0,4.4,5.5,6.0,6.3,6.0,5.0,6.0,4.8,4.6,
3.2,3.0,2.0,0.8,-2.2,-3.0,-2.0,-3.5,-2.2,4.0,
5.5,4.6,5.0,4.0,4.2,5.2,3.8,4.0,3.0,3.8,
3.2,4.8,3.8,4.6,4.5,3.5,3.6,4.4,2.8,5.2,
4.3,3.2,5.0,3.0,4.0,5.6,3.6,4.5,3.7,3.0,
4.6,2.2,6.0,4.3,5.5,4.0,6.0,3.6,4.6,2.5,
3.8,2.2,3.0,2.0,1.6,2.2,3.6,3.0,4.2,5.2,
4.6,6.0,4.0,5.5,5.8,6.5,7.8,8.8,8.5,9.2,
8.0,7.2,-3.6,-3.0,-4.5,-4.0,-5.5,-6.0,-6.3,-7.2,
-7.0,-6.0,-6.8,-6.2,-7.4,-5.0,-6.5,-5.2,-4.8,-5.0,
-3.8,-4.8,-3.4,-4.4,-3.0,-4.0,-4.8,-3.6,-5.0,-4.4,
-4.6,-3.6,-3.8,-2.2,-3.8,-2.6,-4.2,-3.5,-2.0,2.0,
2.2,3.6,2.8,3.4,2.4,2.8,3.2,4.0,-1.0,3.6,
-1.5,2.5,3.4,5.0,5.8,4.8,3.8,3.0,1.6,2.8,
2.6,3.0,2.4,-1.2,2.0,-1.5,-2.0,1.8,-1.3,3.5,
-1.8,3.8,-2.0,4.5,3.8,3.0,4.0,5.5,3.0,4.2,
5.0,3.5,5.5,4.0,4.2,5.2,5.6,4.2,5.5,4.2,
4.6,3.0,4.6,3.8,4.8,5.0,3.2,6.4,5.2,5.6,
3.4,4.8,3.5,3.5,-2.0,-3.4,-3.8,-4.6,-4.5,-6.0,
-4.6,-6.2,-5.0,-5.6,-1.8,-1.0,-2.4,-1.5,-2.0,-1.8,
-2.6,-1.6,-2.4,-3.2,-4.4,5.5,-4.6,4.2,-4.0,4.4,
-3.8,4.0,-4.2,3.5,-3.5,4.5,-2.5,3.0,-4.6,3.2,
-3.2,3.6,-4.0,2.6,-3.0,3.0,-3.2,2.4,-2.0,1.8,
-2.5,2.0,-1.6,1.5,1.8,-1.2,2.2];

const tickChl=[0,0.5,1,1.5,2,2.5], tickChlText=['0.0','0.5','1.0','1.5','2.0','2.5'];
const tickWT=[6,7,8,9,10], tickDO=[0,20,40,60,80];
const tickMet=[-4,-2,0,2,4,6,8,10,12,14,16], tickMetText=['-4','-2','0','2','4','6','8','10','12','14','16'];
const tickRain=[0,2,4,6,8,10];

// ---------------- LAYOUT HELPERS ----------------
const W=1854,H=1347;
const PX=p=>p/W, PY=p=>1-p/H;
const FONT='"Noto Sans CJK JP","Noto Sans",sans-serif';
const NUM='Lato,"Noto Sans",sans-serif';
const GRID='#8a8a8a';
const L=192,R=1516,XMAX=36.06;
const PXD=(R-L)/XMAX;           // pixels per day
const CM=14;                    // pixels per cm/s in the vector panel
const K=CM/PXD;                 // days per cm/s
const BASE=123.3;               // baseline of vectors (px)

let sx=[],sy=[],tipx=[],tipy=[];
function addVectors(T,U,V){
  for(let i=0;i<T.length;i++){
    sx.push(T[i],T[i]+U[i]*K,null); sy.push(0,V[i],null);
    tipx.push(T[i]+U[i]*K); tipy.push(V[i]);
  }
}
addVectors(stT,stU,stV);
addVectors(st2T,st2U,st2V);

const traces=[
 {x:sx,y:sy,xaxis:'x4',yaxis:'y6',mode:'lines',line:{color:'#000',width:1},hoverinfo:'skip',showlegend:false},
 {x:tipx,y:tipy,xaxis:'x4',yaxis:'y6',mode:'markers',marker:{color:'#000',size:3},hoverinfo:'skip',showlegend:false},
 {x:chlT,y:chlV,xaxis:'x',yaxis:'y',mode:'lines',name:'Chl-a[µg/L]',line:{color:'#4F81BD',width:4.5},showlegend:false},
 {x:turbT,y:turbV,xaxis:'x',yaxis:'y',mode:'lines',name:'濁度（FTU)',line:{color:'#C0504D',width:4.5},showlegend:false},
 {x:wt0T,y:wt0V,xaxis:'x2',yaxis:'y2',mode:'lines',name:'水温0m',line:{color:'#FF0000',width:4},showlegend:false},
 {x:wt10T,y:wt10V,xaxis:'x2',yaxis:'y2',mode:'lines',name:'水温10m',line:{color:'#00B050',width:5.5},showlegend:false},
 {x:wt90T,y:wt90V,xaxis:'x2',yaxis:'y2',mode:'lines',name:'水温90m',line:{color:'#0000FF',width:4},showlegend:false},
 {x:doT,y:doV,xaxis:'x2',yaxis:'y3',mode:'lines',name:'DO(%)',line:{color:'#000',width:6.5},showlegend:false},
 {x:windT,y:windV,xaxis:'x3',yaxis:'y4',mode:'lines',name:'風速',line:{color:'#00B050',width:3},showlegend:false},
 {x:airT,y:airV,xaxis:'x3',yaxis:'y4',mode:'lines',name:'気温',line:{color:'#FF00FF',width:3},showlegend:false},
 {x:rainT,y:rainV,xaxis:'x3',yaxis:'y5',type:'bar',name:'降水量',width:0.12,marker:{color:'#0000FF',line:{width:0}},showlegend:false}
];

const xBase={range:[0,XMAX],tickvals:dateTicks,ticktext:dateLabels,showgrid:true,gridcolor:GRID,gridwidth:2,
  ticks:'outside',ticklen:14,tickwidth:2,tickcolor:GRID,showline:true,linecolor:GRID,linewidth:2,zeroline:false,
  domain:[PX(L),PX(R)],fixedrange:true};
const yBase={showgrid:true,gridcolor:GRID,gridwidth:2,ticks:'outside',tickwidth:2,tickcolor:GRID,
  showline:true,linecolor:GRID,linewidth:2,zeroline:false,fixedrange:true};

const layout={
 width:W,height:H,margin:{l:0,r:0,t:0,b:0,pad:0},paper_bgcolor:'#fff',plot_bgcolor:'rgba(0,0,0,0)',
 showlegend:false,barmode:'overlay',font:{family:FONT,color:'#000'},
 xaxis:{...xBase,anchor:'y',showticklabels:false,ticklen:13},
 xaxis2:{...xBase,anchor:'y2',showticklabels:false},
 xaxis3:{...xBase,anchor:'y4',showticklabels:true,tickfont:{family:NUM,size:37,color:'#000'},ticklabelstandoff:26},
 xaxis4:{domain:[PX(100),PX(1600)],range:[(100-L)/PXD,(1600-L)/PXD],visible:false,anchor:'y6',fixedrange:true},
 yaxis:{...yBase,anchor:'x',domain:[PY(554.3),PY(232)],range:[0,2.87],tickvals:tickChl,ticktext:tickChlText,ticklen:12,
   tickfont:{family:NUM,size:36,color:'#000'},ticklabelstandoff:27},
 yaxis2:{...yBase,anchor:'x2',domain:[PY(879),PY(575)],range:[6,10.38],tickvals:tickWT,ticklen:11,
   tickfont:{family:NUM,size:39,color:'#000'},ticklabelstandoff:30},
 yaxis3:{...yBase,anchor:'x2',overlaying:'y2',side:'right',range:[0,87.6],tickvals:tickDO,showgrid:false,ticklen:10,
   tickfont:{family:NUM,size:37,color:'#000'},ticklabelstandoff:22},
 yaxis4:{...yBase,anchor:'x3',domain:[PY(1249),PY(922.7)],range:[-4,16],tickvals:tickMet,ticktext:tickMetText,ticklen:11,
   tickfont:{family:NUM,size:27,color:'#000'},ticklabelstandoff:24},
 yaxis5:{...yBase,anchor:'x3',overlaying:'y4',side:'right',range:[0,10],tickvals:tickRain,showgrid:false,ticklen:10,
   tickfont:{family:NUM,size:28,color:'#000'},ticklabelstandoff:14},
 yaxis6:{domain:[PY(250),1],range:[-(250-BASE)/CM,BASE/CM],visible:false,anchor:'x4',fixedrange:true},
 shapes:[],annotations:[]
};

const S=layout.shapes, A=layout.annotations;
dateTicks.slice(1).forEach(d=>S.push({type:'line',xref:'x',yref:'paper',x0:d,x1:d,y0:PY(232),y1:PY(14),line:{color:'#707070',width:1.5},layer:'below'}));
S.push({type:'line',xref:'x4',yref:'y6',x0:0,x1:XMAX,y0:0,y1:0,line:{color:'#222',width:1.2},layer:'below'});
S.push({type:'rect',xref:'paper',yref:'paper',x0:PX(192),x1:PX(1515),y0:PY(232),y1:PY(14),line:{color:'#000',width:4},fillcolor:'rgba(0,0,0,0)'});
S.push({type:'line',xref:'paper',yref:'paper',x0:PX(R),x1:PX(R),y0:PY(554.3),y1:PY(232),line:{color:'#333',width:2}});
S.push({type:'line',xref:'paper',yref:'paper',x0:PX(L),x1:PX(R),y0:PY(922.7),y1:PY(922.7),line:{color:'#000',width:2.5}});

function box(x0,y0,x1,y1,w){S.push({type:'rect',xref:'paper',yref:'paper',x0:PX(x0),x1:PX(x1),y0:PY(y1),y1:PY(y0),line:{color:'#000',width:w},fillcolor:'#fff'});}
function seg(x0,x1,y,c,w){S.push({type:'line',xref:'paper',yref:'paper',x0:PX(x0),x1:PX(x1),y0:PY(y),y1:PY(y),line:{color:c,width:w}});}
function txt(x,y,t,size,opt){A.push(Object.assign({xref:'paper',yref:'paper',x:PX(x),y:PY(y),text:t,showarrow:false,xanchor:'left',yanchor:'middle',font:{family:FONT,size:size,color:'#000'}},opt||{}));}

// Chl legend
box(321,243,615,390,2);
seg(333,381,279,'#4F81BD',5); txt(384,279,'Chl-a[µg/L]',42);
seg(333,381,355,'#C0504D',5); txt(384,355,'濁度（FTU)',42);
// water temperature legend
box(1627,596,1847,801,2);
seg(1637,1692,627,'#FF0000',6); txt(1695,627,'水温0m',35);
seg(1637,1692,677,'#00B050',6); txt(1695,677,'水温10m',35);
seg(1637,1692,728,'#0000FF',6); txt(1695,728,'水温90m',35);
seg(1637,1692,778,'#000000',8); txt(1695,778,'DO(%)',35);
// weather legend
box(1088,928,1296,1071,2);
S.push({type:'rect',xref:'paper',yref:'paper',x0:PX(1115),x1:PX(1163),y0:PY(964),y1:PY(943),line:{width:0},fillcolor:'#0000FF'});
txt(1170,953,'降水量',34);
seg(1115,1163,1000,'#00B050',3); txt(1170,1000,'風速',34);
seg(1115,1163,1047,'#FF00FF',3); txt(1170,1047,'気温',34);
// vector scale legend
box(1579,95,1779,198,3);
S.push({type:'path',xref:'paper',yref:'paper',path:`M ${PX(1605)} ${PY(131)} L ${PX(1605)} ${PY(116)} L ${PX(1745)} ${PY(116)} L ${PX(1745)} ${PY(131)}`,line:{color:'#444',width:1.5}});
const NARROW='"Liberation Sans Narrow","DejaVu Sans Condensed","Liberation Sans",sans-serif';
txt(1607,163,'0',28,{xanchor:'center',font:{family:NARROW,size:28,color:'#000'}});
txt(1670,165,'cm/s',30,{xanchor:'center',font:{family:NARROW,size:30,color:'#000'}});
txt(1741,161,'10',21,{xanchor:'center',font:{family:NARROW,size:21,color:'#000'}});
txt(1660,52,'流向･流速',48,{xanchor:'center',font:{family:FONT,size:48,color:'#000',weight:900}});
// axis titles
txt(41,713,'水温 ( ℃ )',45,{xanchor:'center',textangle:-90,font:{family:FONT,size:45,color:'#000',weight:700}});
txt(80,1111,'風速(m/s)／気温(℃)',36,{xanchor:'center',textangle:-90,font:{family:FONT,size:36,color:'#000',weight:700}});
txt(1631,1088,'時間降水量(mm)',40,{xanchor:'center',textangle:-90,font:{family:FONT,size:40,color:'#000',weight:700}});

Plotly.newPlot('chart',traces,layout,{staticPlot:true,displayModeBar:false});
</script>
</body></html>
